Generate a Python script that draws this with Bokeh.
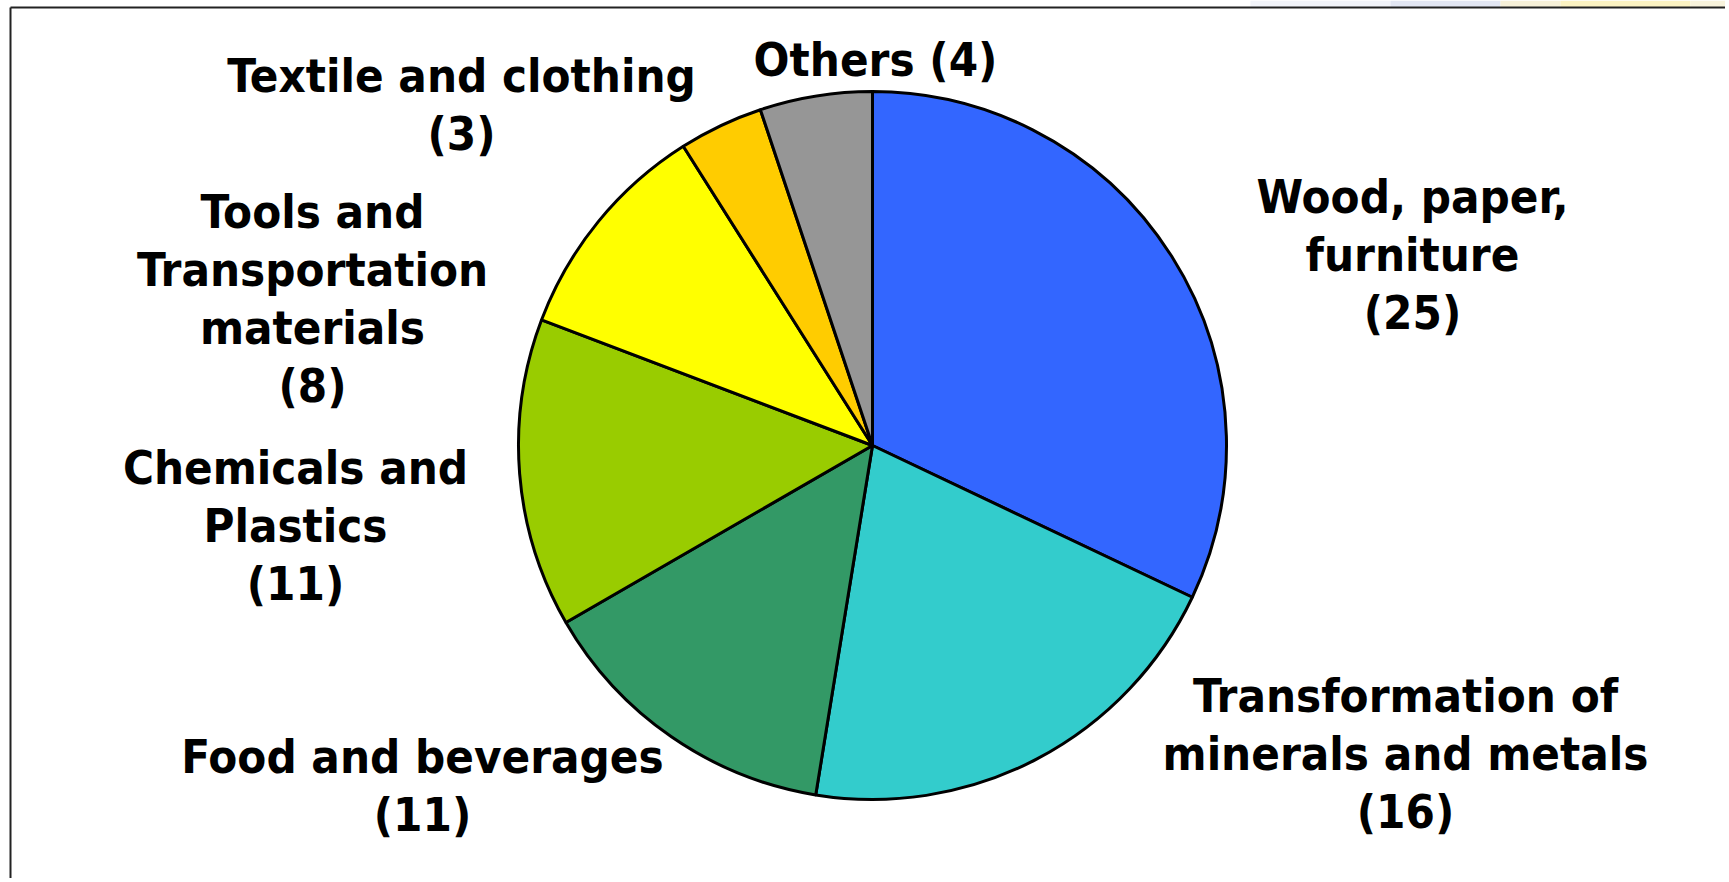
import numpy as np
from bokeh.plotting import figure
from bokeh.models import Range1d, ColumnDataSource
from bokeh.core.properties import value
from bokeh.embed import file_html
from bokeh.resources import INLINE

# ---- data (clockwise from 12 o'clock) ----
categories = ["Wood, paper, furniture", "Transformation of minerals and metals",
              "Food and beverages", "Chemicals and Plastics",
              "Tools and Transportation materials", "Textile and clothing", "Others"]
values = [25, 16, 11, 11, 8, 3, 4]
label_texts = ["Wood, paper,\nfurniture\n(25)",
               "Transformation of\nminerals and metals\n(16)",
               "Food and beverages\n(11)",
               "Chemicals and\nPlastics\n(11)",
               "Tools and\nTransportation\nmaterials\n(8)",
               "Textile and clothing\n(3)",
               "Others (4)"]
colors = ["#3366FF", "#33CCCC", "#339966", "#99CC00", "#FFFF00", "#FFCC00", "#969696"]

# ---- layout (page pixel coordinates) ----
W, H = 1725, 878
PAGE_H = 882
label_x = [1412, 1405, 422, 295, 312, 461, 875]
label_first_baseline = [196, 695, 756, 467, 211, 75, 59]
LINE_SP = 58
cx, cy, R = 872, 445, 354

def fy(page_y):
    return PAGE_H - page_y

p = figure(width=W, height=H, output_backend="svg", toolbar_location=None,
           x_range=Range1d(0, W), y_range=Range1d(PAGE_H - H, PAGE_H),
           min_border=0)
p.axis.visible = False
p.grid.visible = False
p.outline_line_color = None
p.background_fill_color = "white"
p.border_fill_color = "white"

# slide background strip at the top right
p.quad(left=[1250, 1390, 1500, 1560, 1690], right=[1390, 1500, 1560, 1690, W],
       top=[fy(0)] * 5, bottom=[fy(6.5)] * 5,
       fill_color=["#f2f4fa", "#e2e6f3", "#f6f0d8", "#fcf3c2", "#f8f3dc"],
       line_color=None)

# slide frame (left and top edges)
p.segment(x0=[10, 10], y0=[fy(7), fy(7)], x1=[10, W + 5], y1=[0, fy(7)],
          line_color="#222222", line_width=2)

# pie wedges
vals = np.array(values, dtype=float)
frac = vals / vals.sum()
cum = np.concatenate([[0], np.cumsum(frac)])
start = np.pi / 2 - cum[:-1] * 2 * np.pi
end = np.pi / 2 - cum[1:] * 2 * np.pi
src = ColumnDataSource(dict(x=[cx] * len(vals), y=[fy(cy)] * len(vals),
                            start=start, end=end, color=colors, cat=categories))
p.wedge(x="x", y="y", radius=R, start_angle="start", end_angle="end",
        direction="clock", fill_color="color", line_color="black", line_width=3,
        source=src)

# labels
tx, ty, tt = [], [], []
for lab, x0, b0 in zip(label_texts, label_x, label_first_baseline):
    for i, line in enumerate(lab.split("\n")):
        tx.append(x0)
        ty.append(fy(b0 + i * LINE_SP))
        tt.append(line)
p.text(x=tx, y=ty, text=tt, text_align="center", text_baseline="alphabetic",
       text_font=value("DejaVu Sans Condensed"), text_font_style="bold",
       text_font_size="47px", text_color="black")

open("out.html", "w").write(file_html(p, INLINE))
